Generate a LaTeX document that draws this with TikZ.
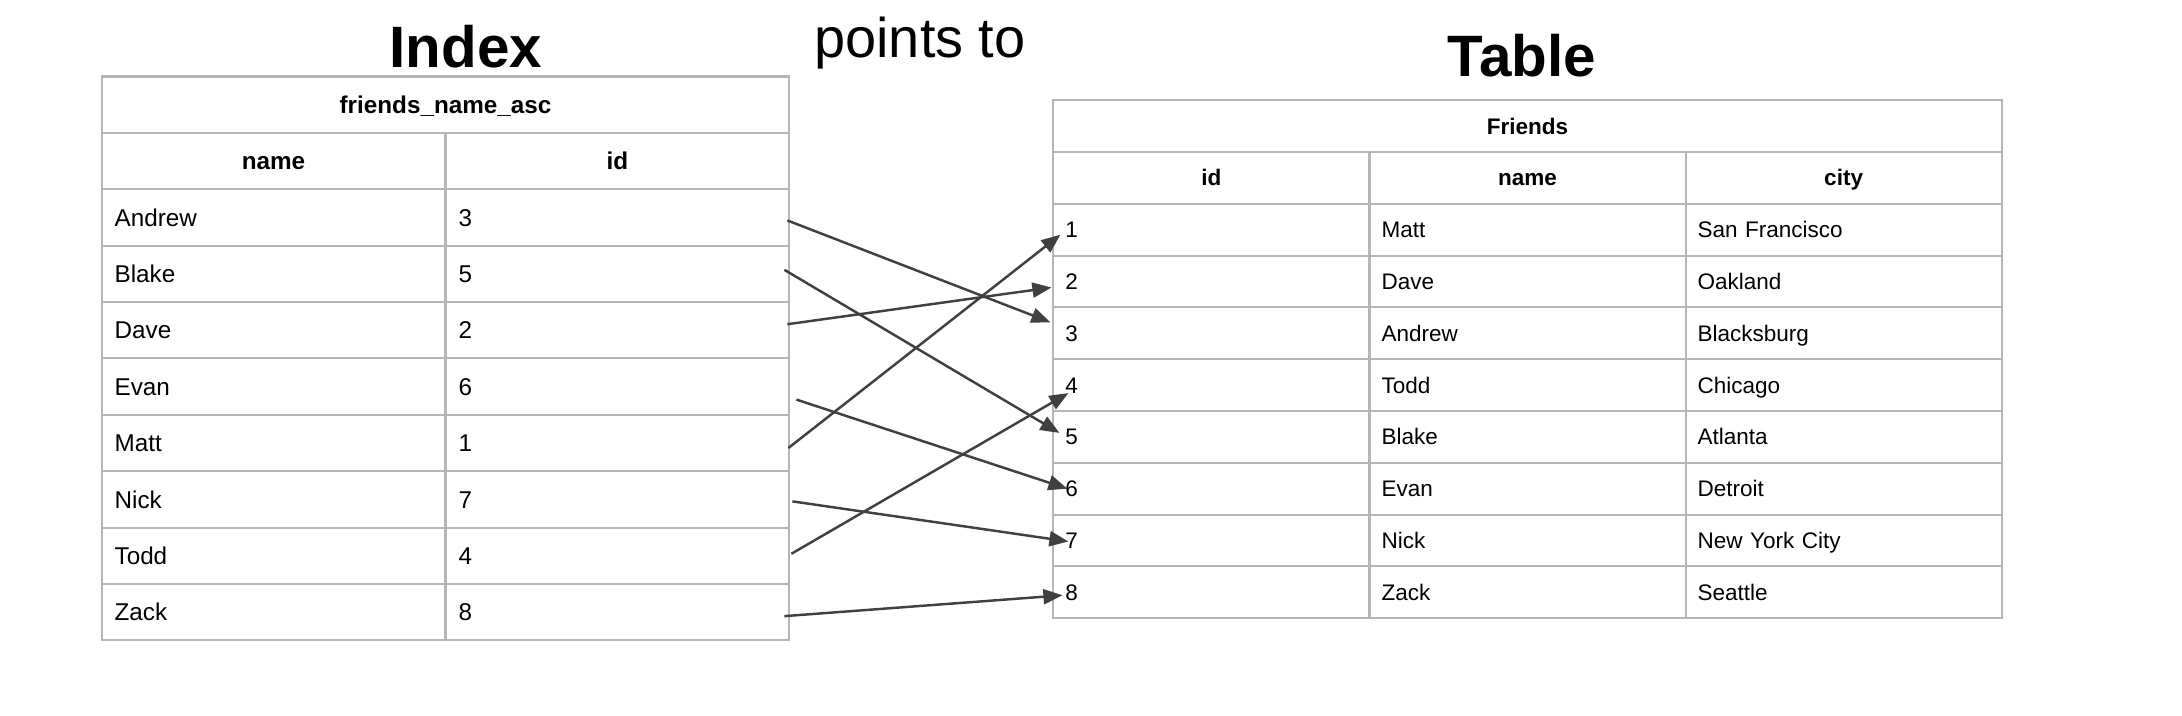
\documentclass[tikz,border=0pt]{standalone}
\usepackage{fontspec}
\setmainfont{Liberation Sans}
\usetikzlibrary{arrows.meta, positioning, calc}
\definecolor{gridgray}{RGB}{182, 182, 182}
\definecolor{arrowgray}{RGB}{64, 64, 64}

\begin{document}
\begin{tikzpicture}[
    x=0.01cm, y=-0.01cm,
    title/.style={font=\fontsize{16.6pt}{18pt}\selectfont\bfseries,
                  anchor=base, inner sep=0pt},
    icell/.style={rectangle, draw=gridgray, line width=0.6pt, outer sep=0pt,
                  minimum width=3.437cm, minimum height=0.5635cm,
                  inner xsep=0.13cm, inner ysep=0pt, text width=3.177cm,
                  align=left, text height=6pt, text depth=1.06pt,
                  font=\fontsize{6.9pt}{8pt}\selectfont},
    ihead/.style={icell, align=center,
                  font=\fontsize{6.9pt}{8pt}\selectfont\bfseries},
    iwide/.style={ihead, minimum width=6.874cm, text width=6.614cm},
    tcell/.style={rectangle, draw=gridgray, line width=0.6pt, outer sep=0pt,
                  minimum width=3.159cm, minimum height=0.5177cm,
                  inner xsep=0.12cm, inner ysep=0pt, text width=2.919cm,
                  align=left, text height=5.6pt, text depth=1.02pt,
                  font=\fontsize{6.4pt}{7.5pt}\selectfont},
    thead/.style={tcell, align=center,
                  font=\fontsize{6.4pt}{7.5pt}\selectfont\bfseries},
    twide/.style={thead, minimum width=9.477cm, text width=9.237cm},
    arr/.style={-{Triangle[length=0.19cm, width=0.15cm]}, line width=0.7pt, arrowgray}
]
\useasboundingbox (0,0) rectangle (2182,716);

% titles
\node[title] (ttl-index) at (466,68) {Index};
\node[title, font=\fontsize{15.9pt}{18pt}\selectfont] (ttl-points) at (920,58) {points to};
\node[title] (ttl-table) at (1522,76.7) {Table};

% index
\node[iwide, anchor=north west] (ihd) at (101.6,76.5) {friends\_name\_asc};
\node[ihead, below=0pt of ihd.south west, anchor=north west] (iname) {name};
\node[ihead, right=0pt of iname] (iid) {id};
\node[icell, below=0pt of iname]  (andrew) {Andrew}; \node[icell, right=0pt of andrew] (andrew-id) {3};
\node[icell, below=0pt of andrew] (blake)  {Blake};  \node[icell, right=0pt of blake]  (blake-id)  {5};
\node[icell, below=0pt of blake]  (dave)   {Dave};   \node[icell, right=0pt of dave]   (dave-id)   {2};
\node[icell, below=0pt of dave]   (evan)   {Evan};   \node[icell, right=0pt of evan]   (evan-id)   {6};
\node[icell, below=0pt of evan]   (matt)   {Matt};   \node[icell, right=0pt of matt]   (matt-id)   {1};
\node[icell, below=0pt of matt]   (nick)   {Nick};   \node[icell, right=0pt of nick]   (nick-id)   {7};
\node[icell, below=0pt of nick]   (todd)   {Todd};   \node[icell, right=0pt of todd]   (todd-id)   {4};
\node[icell, below=0pt of todd]   (zack)   {Zack};   \node[icell, right=0pt of zack]   (zack-id)   {8};

% table
\node[twide, anchor=north west] (thd) at (1053.4,100.2) {Friends};
\node[thead, below=0pt of thd.south west, anchor=north west] (tid) {id};
\node[thead, right=0pt of tid]   (tname) {name};
\node[thead, right=0pt of tname] (tcity) {city};
\node[tcell, below=0pt of tid] (t1) {1}; \node[tcell, right=0pt of t1] (t1-name) {Matt};   \node[tcell, right=0pt of t1-name] (t1-city) {San Francisco};
\node[tcell, below=0pt of t1]  (t2) {2}; \node[tcell, right=0pt of t2] (t2-name) {Dave};   \node[tcell, right=0pt of t2-name] (t2-city) {Oakland};
\node[tcell, below=0pt of t2]  (t3) {3}; \node[tcell, right=0pt of t3] (t3-name) {Andrew}; \node[tcell, right=0pt of t3-name] (t3-city) {Blacksburg};
\node[tcell, below=0pt of t3]  (t4) {4}; \node[tcell, right=0pt of t4] (t4-name) {Todd};   \node[tcell, right=0pt of t4-name] (t4-city) {Chicago};
\node[tcell, below=0pt of t4]  (t5) {5}; \node[tcell, right=0pt of t5] (t5-name) {Blake};  \node[tcell, right=0pt of t5-name] (t5-city) {Atlanta};
\node[tcell, below=0pt of t5]  (t6) {6}; \node[tcell, right=0pt of t6] (t6-name) {Evan};   \node[tcell, right=0pt of t6-name] (t6-city) {Detroit};
\node[tcell, below=0pt of t6]  (t7) {7}; \node[tcell, right=0pt of t7] (t7-name) {Nick};   \node[tcell, right=0pt of t7-name] (t7-city) {New York City};
\node[tcell, below=0pt of t7]  (t8) {8}; \node[tcell, right=0pt of t8] (t8-name) {Zack};   \node[tcell, right=0pt of t8-name] (t8-city) {Seattle};

% pointers
\draw[arr] ($(andrew-id.east)+(-2,3)$)  -- ($(t3.west)+(-3,-11)$);
\draw[arr] ($(blake-id.east)+(-5,-4)$)  -- ($(t5.west)+(6,-4)$);
\draw[arr] ($(dave-id.east)+(-2,-6)$)   -- ($(t2.west)+(-2,6)$);
\draw[arr] ($(evan-id.east)+(7,13)$)    -- ($(t6.west)+(14,0)$);
\draw[arr] ($(matt-id.east)+(-1,5)$)    -- ($(t1.west)+(7,5)$);
\draw[arr] ($(nick-id.east)+(3,2)$)     -- ($(t7.west)+(15,1)$);
\draw[arr] ($(todd-id.east)+(2,-2)$)    -- ($(t4.west)+(15,8)$);
\draw[arr] ($(zack-id.east)+(-5,4)$)    -- ($(t8.west)+(9,3)$);

\end{tikzpicture}
\end{document}
